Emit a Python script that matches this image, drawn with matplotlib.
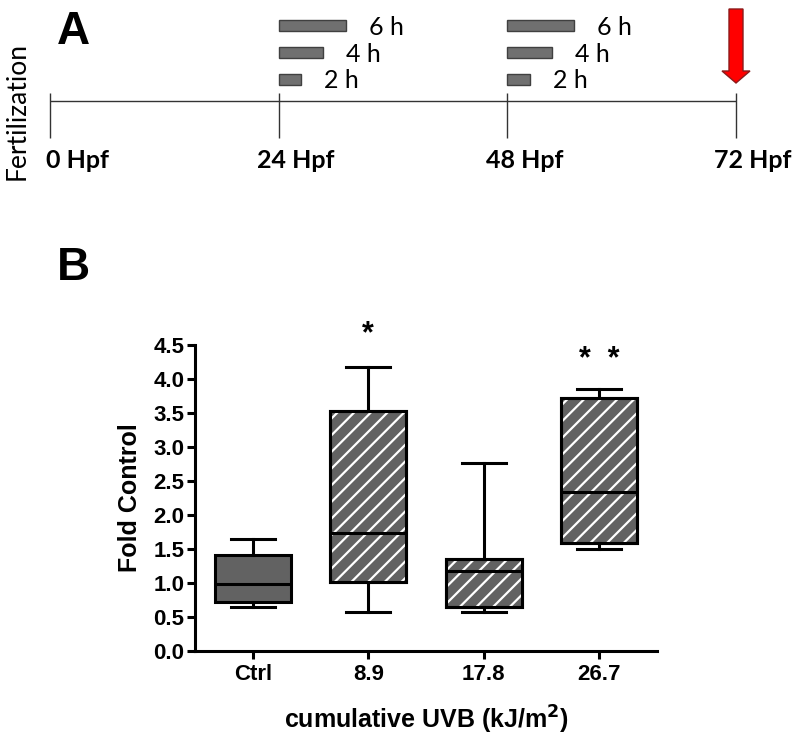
import matplotlib
matplotlib.use("Agg")
import matplotlib.pyplot as plt
from matplotlib.patches import FancyArrow, PathPatch

# panel A: exposure schedule
timepoints = [0, 24, 48, 72]
time_labels = ["0 Hpf", "24 Hpf", "48 Hpf", "72 Hpf"]
exposure_onsets = [24, 48]
durations = [6, 4, 2]
duration_labels = ["6 h", "4 h", "2 h"]
sample_at = 72

# panel B: box plot stats
groups = ["Ctrl", "8.9", "17.8", "26.7"]
whislo = [0.64, 0.58, 0.58, 1.50]
q1 = [0.72, 1.01, 0.64, 1.59]
med = [0.98, 1.74, 1.17, 2.34]
q3 = [1.41, 3.53, 1.36, 3.72]
whishi = [1.64, 4.18, 2.77, 3.86]
hatched = [False, True, True, True]
stars = ["", "*", "", "*  *"]
star_y = [0, 4.66, 0, 4.28]

gray = "#626262"
plt.rcParams["hatch.linewidth"] = 1.6

fig = plt.figure(figsize=(8, 7.4), dpi=100)
W, H = 800, 740

# ---- panel A (x in hours, y in pixel rows from top of panel)
px_per_h = 686 / 72
axa = fig.add_axes([50 / W, 1 - 190 / H, 686 / W, 190 / H])
axa.set_xlim(0, 72)
axa.set_ylim(190, 0)
axa.axis("off")

line_c = "#333333"
axa.hlines(101, timepoints[0], timepoints[-1], color=line_c, lw=1, clip_on=False)
axa.vlines(timepoints, 93, 138, color=line_c, lw=1, clip_on=False)
for t, lab in zip(timepoints, time_labels):
    off = 2.9 if t == 0 else 1.8
    axa.text(t + off, 160, lab, ha="center", va="center", fontsize=18,
             fontweight="bold", family="Lato", clip_on=False)

bar_scale = 1.17
rows = [25.5, 52, 79]
for onset in exposure_onsets:
    for d, lab, y in zip(durations, duration_labels, rows):
        axa.barh(y, d * bar_scale, left=onset, height=11, color="#707070",
                 edgecolor="#404040", lw=1)
        axa.text(onset + d * bar_scale + 23 / px_per_h, y + 2, lab,
                 ha="left", va="center", fontsize=18, family="Lato")

arrow = FancyArrow(sample_at, 9, 0, 74, width=14 / px_per_h,
                   head_width=28 / px_per_h, head_length=12,
                   length_includes_head=True, fc="#ff0000", ec="#8b1a1a", lw=1,
                   clip_on=False)
axa.add_patch(arrow)
axa.text((17 - 50) / px_per_h, 111, "Fertilization", rotation=90, ha="center",
         va="center", fontsize=19, family="Lato", clip_on=False)

fig.text(73 / W, 1 - 32 / H, "A", ha="center", va="center", fontsize=33,
         fontweight="bold", family="Liberation Sans")
fig.text(73 / W, 1 - 268 / H, "B", ha="center", va="center", fontsize=33,
         fontweight="bold", family="Liberation Sans")

# ---- panel B
axb = fig.add_axes([195 / W, 1 - 651 / H, 462 / W, 306 / H])
stats = [dict(whislo=a, q1=b, med=c, q3=d, whishi=e, fliers=[], label=g)
         for a, b, c, d, e, g in zip(whislo, q1, med, q3, whishi, groups)]
lw = 2.2
pos = list(range(1, len(groups) + 1))
bp = axb.bxp(stats, positions=pos, widths=0.66, capwidths=0.38, patch_artist=True,
             boxprops=dict(facecolor=gray, edgecolor="black", lw=lw),
             whiskerprops=dict(color="black", lw=lw),
             capprops=dict(color="black", lw=lw),
             medianprops=dict(color="black", lw=lw))
for box, h in zip(bp["boxes"], hatched):
    if h:
        axb.add_patch(PathPatch(box.get_path(), facecolor="none", edgecolor="white",
                                hatch="//", lw=0, zorder=2.02))
        axb.add_patch(PathPatch(box.get_path(), facecolor="none", edgecolor="black",
                                lw=lw, zorder=2.05))

for x, s, y in zip(pos, stars, star_y):
    if s:
        axb.text(x, y, s, ha="center", va="center", fontsize=22, fontweight="bold",
                 family="Liberation Sans", clip_on=False)

axb.set_xlim(0.5, 4.5)
axb.set_ylim(0, 4.5)
axb.set_yticks([i * 0.5 for i in range(10)])
axb.set_yticklabels([f"{i * 0.5:.1f}" for i in range(10)])
axb.set_xticks(pos)
axb.set_xticklabels(groups)
for s in ["top", "right"]:
    axb.spines[s].set_visible(False)
for s in ["left", "bottom"]:
    axb.spines[s].set_linewidth(lw)
axb.tick_params(axis="both", width=lw, length=5.5, labelsize=16)
axb.tick_params(axis="y", pad=2)
for lab in axb.get_xticklabels() + axb.get_yticklabels():
    lab.set_fontweight("bold")
    lab.set_family("Liberation Sans")
axb.set_ylabel("Fold Control", fontsize=18, fontweight="bold", family="Liberation Sans",
               labelpad=8)
axb.set_xlabel("cumulative UVB (kJ/m$^\\mathbf{2}$)", fontsize=18, fontweight="bold",
               family="Liberation Sans", labelpad=14)

fig.savefig("out.png", dpi=100)
